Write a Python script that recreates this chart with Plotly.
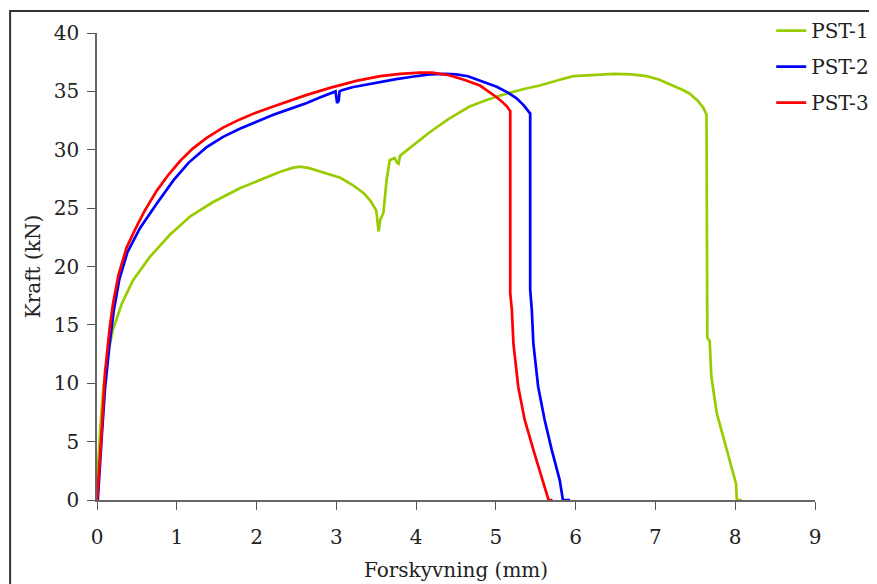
import plotly.graph_objects as go

# PST-1 (green)
pst1_x = [0, 0.005, 0.04, 0.08, 0.14, 0.20, 0.31, 0.45, 0.66, 0.91, 1.17, 1.45, 1.79, 2.05, 2.29, 2.45, 2.54,
          2.65, 2.8, 3.05, 3.2, 3.34, 3.43, 3.50, 3.53, 3.55, 3.59, 3.63, 3.67, 3.73, 3.76, 3.78, 3.80, 3.95,
          4.17, 4.4, 4.67, 4.9, 5.13, 5.35, 5.55, 5.80, 5.97, 6.2, 6.47, 6.7, 6.89, 7.05, 7.22, 7.35, 7.43,
          7.53, 7.60, 7.64, 7.65, 7.68, 7.70, 7.77, 7.85, 7.93, 8.01, 8.02, 8.08]
pst1_y = [0, 2.0, 6.0, 9.7, 12.6, 14.6, 16.8, 18.8, 20.8, 22.7, 24.3, 25.5, 26.7, 27.4, 28.1, 28.45, 28.55,
          28.45, 28.15, 27.6, 27.0, 26.3, 25.6, 24.8, 23.0, 24.0, 24.6, 27.4, 29.1, 29.3, 28.9, 28.8, 29.5, 30.3,
          31.5, 32.6, 33.7, 34.3, 34.8, 35.2, 35.5, 36.0, 36.3, 36.4, 36.5, 36.45, 36.3, 36.0, 35.5, 35.1, 34.8,
          34.2, 33.6, 33.0, 13.9, 13.6, 10.6, 7.4, 5.4, 3.4, 1.4, 0, 0]

# PST-2 (blue)
pst2_x = [0.01, 0.03, 0.06, 0.10, 0.16, 0.21, 0.28, 0.38, 0.54, 0.75, 0.96, 1.15, 1.37, 1.58, 1.79, 2.0,
          2.21, 2.42, 2.63, 2.8, 2.96, 2.99, 3.01, 3.03, 3.04, 3.07, 3.2, 3.35, 3.55, 3.75, 3.95, 4.17, 4.35,
          4.5, 4.65, 4.8, 5.01, 5.15, 5.26, 5.35, 5.43, 5.43, 5.45, 5.47, 5.53, 5.61, 5.70, 5.80, 5.84, 5.93]
pst2_y = [0, 2.5, 5.5, 9.5, 13.5, 16.2, 18.9, 21.2, 23.3, 25.4, 27.4, 28.9, 30.2, 31.1, 31.8, 32.4,
          33.0, 33.5, 34.0, 34.5, 34.9, 35.0, 34.0, 34.2, 35.0, 35.1, 35.35, 35.55, 35.8, 36.05, 36.25, 36.45, 36.5,
          36.45, 36.3, 35.95, 35.4, 34.9, 34.4, 33.8, 33.1, 18.0, 16.3, 13.4, 9.7, 6.9, 4.3, 1.7, 0, 0]

# PST-3 (red)
pst3_x = [0, 0.005, 0.06, 0.10, 0.16, 0.20, 0.27, 0.37, 0.48, 0.6, 0.75, 0.9, 1.05, 1.2, 1.37, 1.58, 1.79,
          2.0, 2.21, 2.42, 2.63, 2.92, 3.25, 3.55, 3.8, 4.05, 4.2, 4.4, 4.6, 4.80, 4.92, 5.01, 5.08, 5.14,
          5.18, 5.18, 5.20, 5.22, 5.28, 5.36, 5.47, 5.57, 5.66, 5.71]
pst3_y = [0, 0.3, 6.0, 10.9, 14.8, 16.8, 19.3, 21.6, 23.2, 24.8, 26.5, 27.9, 29.1, 30.1, 31.0, 31.9, 32.6,
          33.2, 33.7, 34.2, 34.7, 35.3, 35.9, 36.3, 36.5, 36.6, 36.6, 36.4, 36.0, 35.5, 34.95, 34.5, 34.1, 33.7,
          33.3, 17.7, 16.3, 13.4, 9.7, 6.9, 4.3, 2.0, 0, 0]

series = [
    ("PST-1", pst1_x, pst1_y, "#99cc00"),
    ("PST-2", pst2_x, pst2_y, "#0000ff"),
    ("PST-3", pst3_x, pst3_y, "#ff0000"),
]

x_ticks = list(range(0, 10))
y_ticks = list(range(0, 45, 5))

FONT = "DejaVu Serif"
FS = 20

fig = go.Figure()
for name, xs, ys, col in series:
    fig.add_trace(go.Scatter(x=xs, y=ys, mode="lines", name=name, legendgroup=name,
                             line=dict(color=col, width=2.7)))

axis_common = dict(showgrid=False, zeroline=False, showline=True, linecolor="#666666", linewidth=1.5,
                   ticks="outside", ticklen=8, tickwidth=1.2, tickcolor="#555555",
                   tickfont=dict(family=FONT, size=FS, color="#222222"))

fig.update_layout(
    width=869, height=576,
    margin=dict(l=89, r=62, t=25, b=84, autoexpand=False),
    plot_bgcolor="white", paper_bgcolor="white",
    font=dict(family=FONT, size=FS, color="#222222"),
    xaxis=dict(range=[0, 9], tickvals=x_ticks, ticklabelstandoff=10, automargin=False,
               title=dict(text="Forskyvning (mm)", standoff=15, font=dict(family=FONT, size=FS)),
               **axis_common),
    yaxis=dict(range=[0, 40], tickvals=y_ticks, ticklabelstandoff=4, automargin=False,
               title=dict(text="Kraft (kN)", standoff=8, font=dict(family=FONT, size=FS)),
               **axis_common),
    legend=dict(x=0.939, y=1.047, xanchor="left", yanchor="top",
                bgcolor="rgba(255,255,255,0)", font=dict(family=FONT, size=FS), tracegroupgap=7),
    showlegend=True,
)

fig.add_shape(type="rect", xref="paper", yref="paper", x0=-0.121, x1=1.5, y0=-0.5, y1=1.047,
              line=dict(color="#333333", width=2), fillcolor="rgba(0,0,0,0)", layer="below")

fig.write_html("out.html")
